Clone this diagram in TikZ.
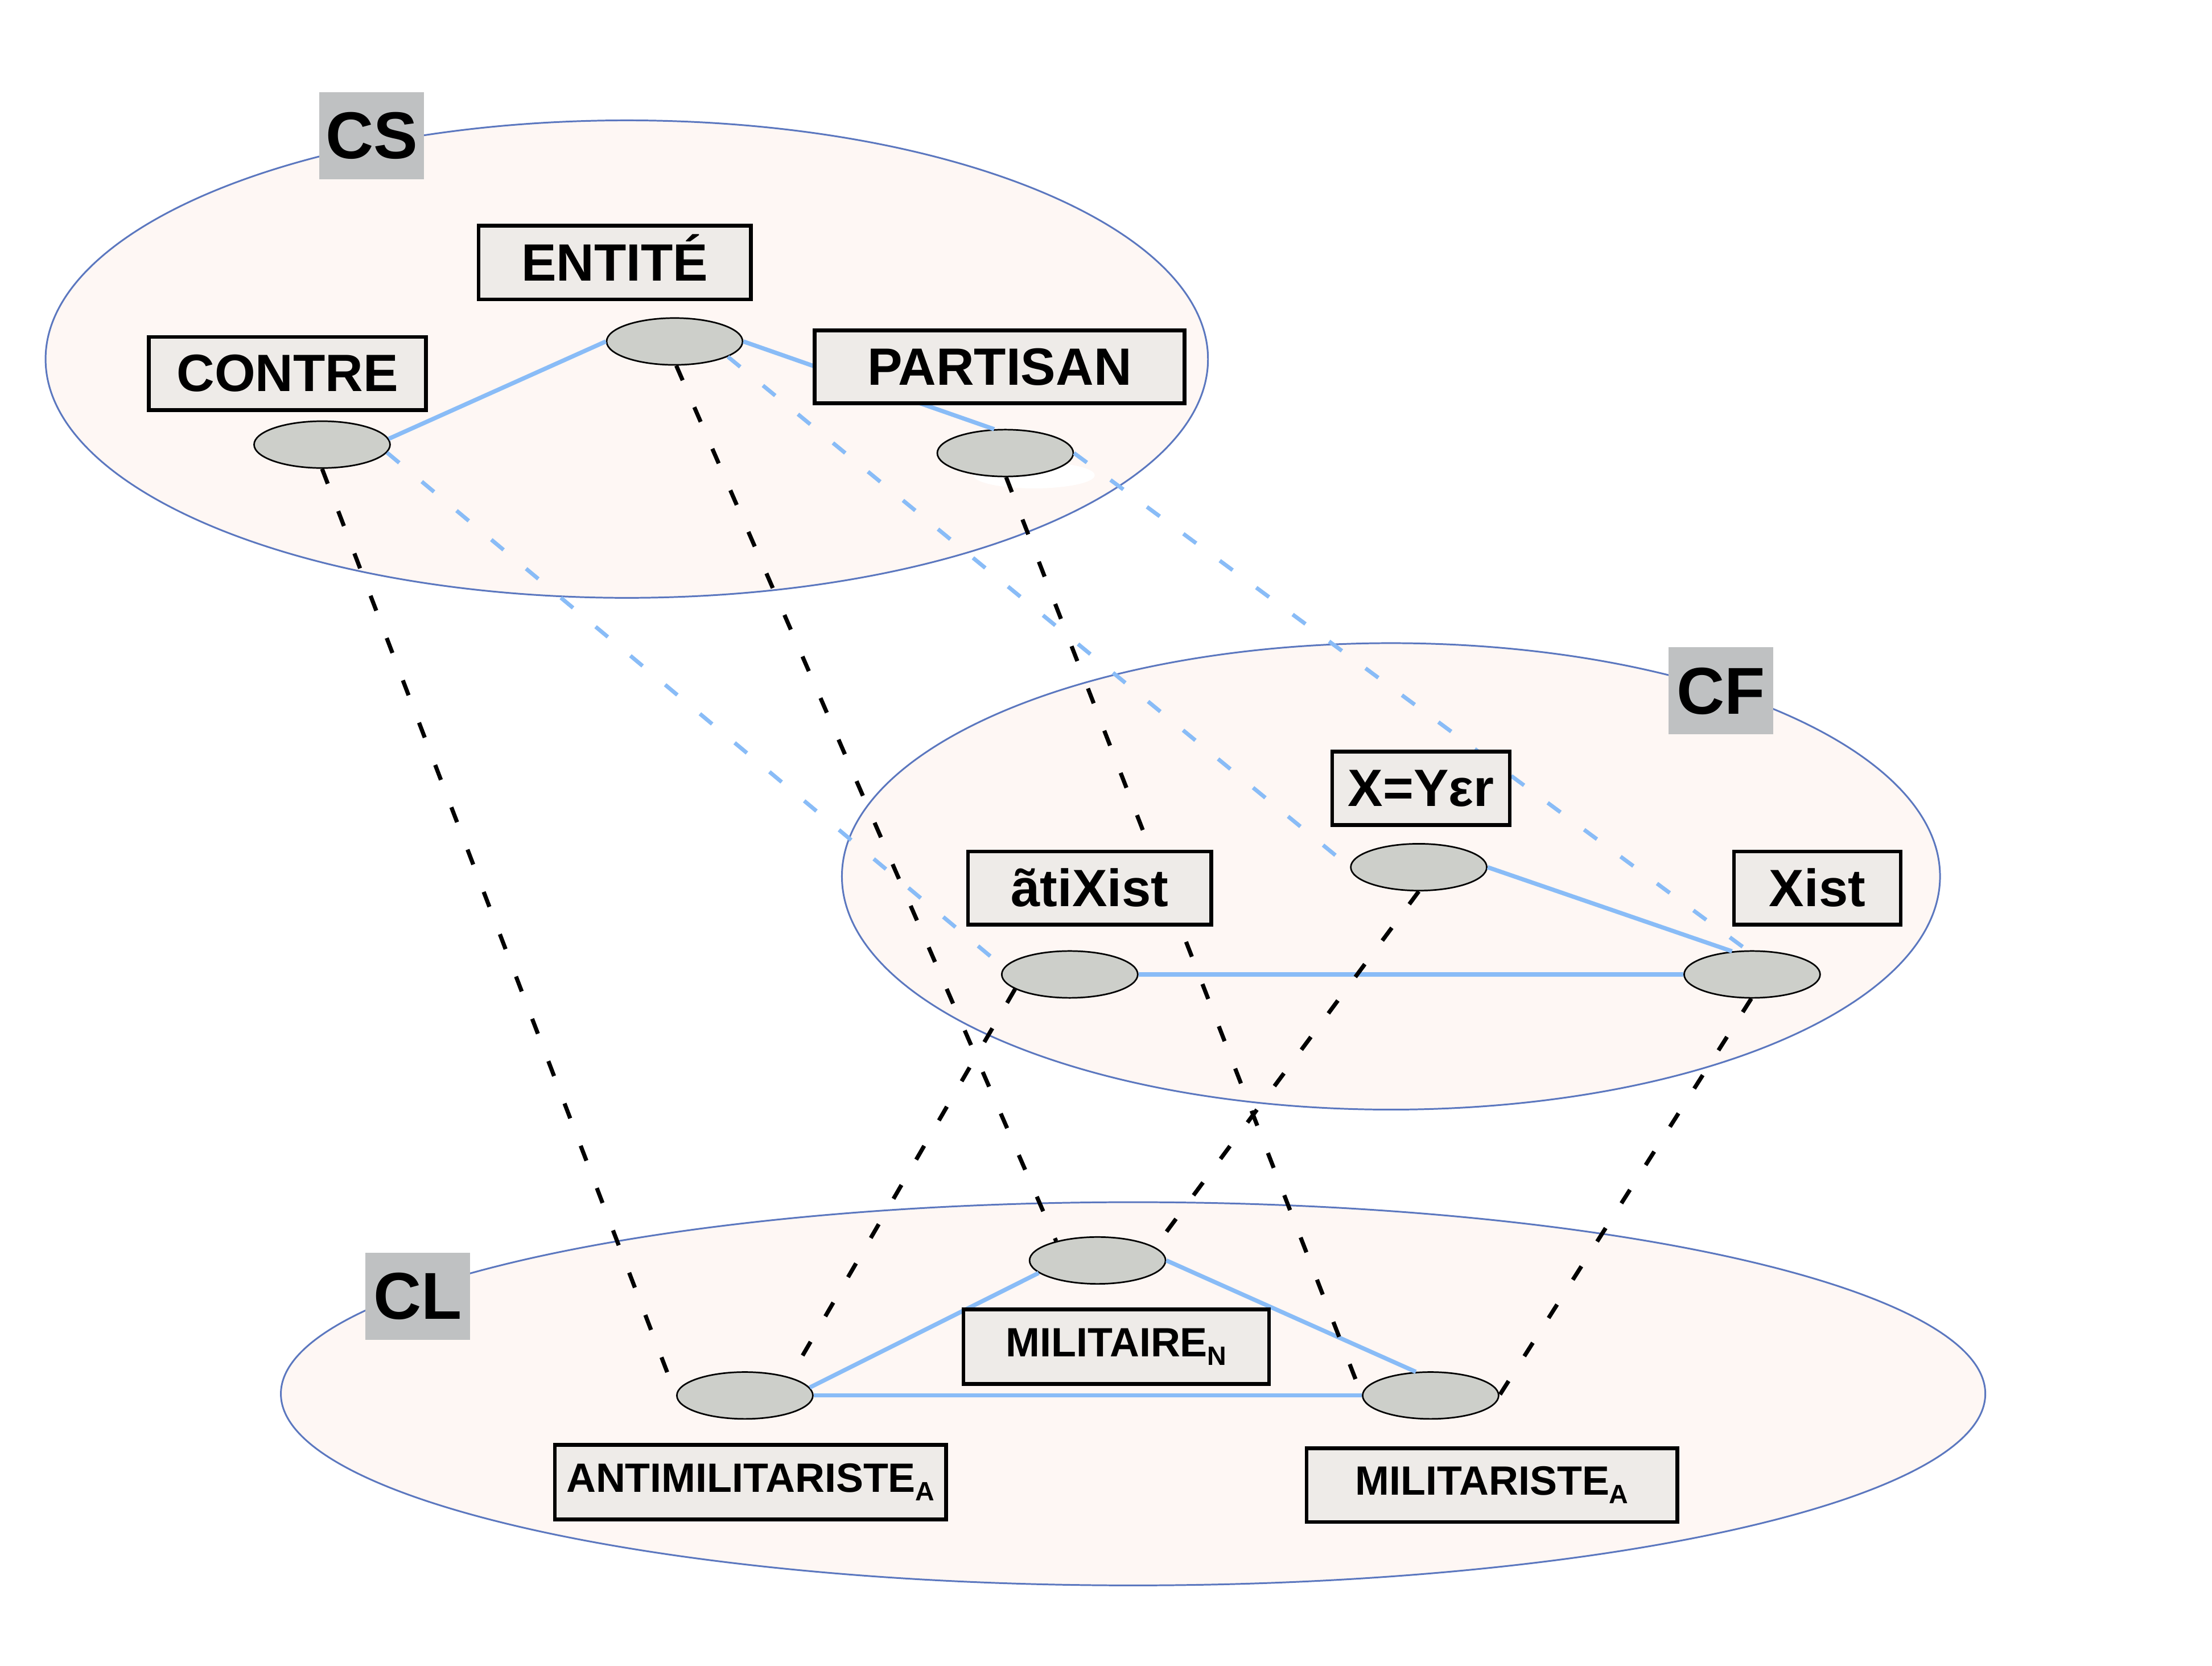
\documentclass[tikz,border=0pt]{standalone}
\usepackage{fontspec}
\setmainfont{Liberation Sans}
\usetikzlibrary{shapes.geometric}
\definecolor{ellfill}{HTML}{FEF7F4}
\definecolor{elldraw}{HTML}{5B77BF}
\definecolor{dotfill}{HTML}{CDCFCA}
\definecolor{boxfill}{HTML}{EEEBE8}
\definecolor{labfill}{HTML}{BFC1C2}
\definecolor{linkblue}{HTML}{89BCF7}
\begin{document}
\begin{tikzpicture}[x=1pt,y=-1pt,
 bigell/.style={ellipse, draw=elldraw, fill=ellfill, line width=1.2pt, inner sep=0pt},
 dot/.style={ellipse, draw=black, fill=dotfill, line width=1.1pt, inner sep=0pt, minimum width=96.4pt, minimum height=33.2pt},
 wbox/.style={rectangle, draw=black, fill=boxfill, line width=2.7pt, inner sep=0pt, font=\bfseries\fontsize{37.2}{40}\selectfont, text height=25.6pt, text depth=0pt},
 sbox/.style={wbox, font=\bfseries\fontsize{29}{32}\selectfont, text height=19.9pt, text depth=6pt},
 lab/.style={rectangle, fill=labfill, inner sep=0pt, minimum width=74.2pt, minimum height=61.7pt, font=\bfseries\fontsize{47}{50}\selectfont, text height=32.3pt, text depth=0pt},
 solidlink/.style={draw=linkblue, line width=3pt},
 bluedash/.style={draw=linkblue, line width=2.8pt, dash pattern=on 11.3pt off 20.8pt},
 blackdash/.style={draw=black, line width=2.9pt, dash pattern=on 11.3pt off 20.8pt}
]
\useasboundingbox (0,0) rectangle (1568,1180.7);
\fill[white] (0,0) rectangle (1568,1180.7);

% big ellipses
\node[bigell, minimum width=824pt, minimum height=338.4pt] (CS) at (444.3,254.5) {};
\node[bigell, minimum width=778.4pt, minimum height=330.6pt] (CF) at (986,621.1) {};
\node[bigell, minimum width=1208.2pt, minimum height=271.6pt] (CL) at (803.2,987.8) {};

% level labels
\node[lab] (CSlab) at (263.5,96.2) {CS};
\node[lab] (CFlab) at (1219.9,489.7) {CF};
\node[lab] (CLlab) at (296,918.9) {CL};

% white patch under PARTISAN ellipse
\node[ellipse, fill=white, inner sep=0pt, minimum width=86pt, minimum height=18.6pt] (blob) at (733,336.8) {};

% small ellipses
\node[dot] (eENT) at (478.2,242) {};
\node[dot] (eCON) at (228.3,315.1) {};
\node[dot] (ePAR) at (712.6,321.1) {};
\node[dot] (eXY) at (1005.7,614.6) {};
\node[dot] (eATI) at (758.3,690.6) {};
\node[dot] (eXIST) at (1242,690.6) {};
\node[dot] (eMIL) at (778,893.3) {};
\node[dot] (eANTI) at (528,989) {};
\node[dot] (eMTA) at (1014.1,989) {};

% solid blue links
\draw[solidlink] (eCON.5) -- (eENT.west);
\draw[solidlink] (eENT.east) -- (ePAR.115);
\draw[solidlink] (eXY.east) -- (eXIST.131);
\draw[solidlink] (eATI.east) -- (eXIST.west);
\draw[solidlink] (eANTI.7) -- (eMIL.192);
\draw[solidlink] (eMIL.east) -- (eMTA.122);
\draw[solidlink] (eANTI.east) -- (eMTA.west);

% dashed blue links
\draw[bluedash] (eCON.-7) -- (eATI.174);
\draw[bluedash] (eENT.-16) -- (eXY.west);
\draw[bluedash] (ePAR.east) -- (eXIST.101);

% dashed black links
\draw[blackdash] (eCON.south) -- (eANTI.west);
\draw[blackdash] (eENT.-86) -- (eMIL.155);
\draw[blackdash] (ePAR.-88) -- (eMTA.west);
\draw[blackdash] (eXY.south) -- (eMIL.13);
\draw[blackdash] (eXIST.-92) -- (eMTA.east);
\draw[blackdash] (eATI.195) -- (eANTI.22);

% boxes
\node[wbox, minimum width=193.1pt, minimum height=52.1pt] (bENT) at (435.8,186.1) {ENTITÉ};
\node[wbox, minimum width=196.5pt, minimum height=51.8pt] (bCON) at (203.8,264.65) {CONTRE};
\node[wbox, minimum width=262.3pt, minimum height=51.7pt] (bPAR) at (708.5,260) {PARTISAN};
\node[wbox, minimum width=125.9pt, minimum height=52.1pt] (bXY) at (1007.3,558.7) {X=Yεr};
\node[wbox, minimum width=172.4pt, minimum height=51.9pt] (bATI) at (772.4,629.4) {ãtiXist};
\node[wbox, minimum width=118.2pt, minimum height=51.9pt] (bXIST) at (1288.2,629.4) {Xist};
\node[sbox, minimum width=216.6pt, minimum height=52.8pt] (bMIL) at (791.3,954.5) {MILITAIRE\raisebox{-6pt}{\fontsize{18.8}{20}\selectfont N}};
\node[sbox, minimum width=277.3pt, minimum height=52.7pt] (bANTI) at (532,1050.4) {ANTIMILITARISTE\raisebox{-6pt}{\fontsize{18.8}{20}\selectfont A}};
\node[sbox, minimum width=262.9pt, minimum height=52.3pt] (bMTA) at (1057.6,1052.5) {MILITARISTE\raisebox{-6pt}{\fontsize{18.8}{20}\selectfont A}};
\end{tikzpicture}
\end{document}
